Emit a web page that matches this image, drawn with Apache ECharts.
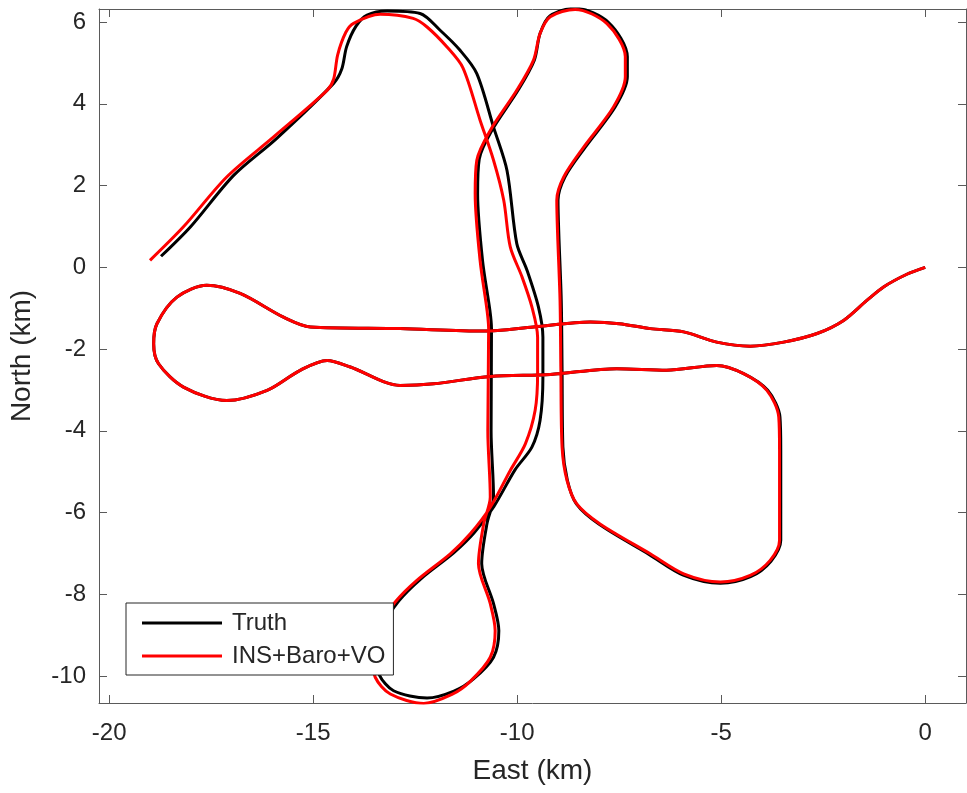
<!DOCTYPE html>
<html>
<head>
<meta charset="utf-8">
<script src="https://cdn.jsdelivr.net/npm/echarts@6/dist/echarts.min.js"></script>
<style>
  html, body { margin: 0; padding: 0; background: #fff; }
  #main { width: 967px; height: 793px; }
</style>
</head>
<body>
<div id="main"></div>
<script>
// trajectory, km (East, North)
var truthEast = [0, -0.45, -1.02, -1.43, -2.0, -2.65, -3.47, -4.29, -5.11, -5.92, -6.74, -7.5, -8.21, -9.6, -10.82, -12.87,
  -15.07, -15.73, -16.79, -17.61, -18.34, -18.83, -18.91, -18.79, -18.18, -17.12, -16.13, -15.32, -14.66, -14.09, -12.87,
  -12.05, -10.66, -9.19, -7.56, -6.34, -5.11, -4.45, -3.86, -3.56, -3.54, -3.54, -3.78, -4.28, -5.02, -5.93, -6.76,
  -7.99, -8.55, -8.77, -8.88, -8.90, -8.92, -8.98, -9.0, -8.83, -8.33, -7.6, -7.3, -7.3, -7.76, -8.58, -9.2, -9.44,
  -9.58, -9.98, -10.62, -10.93, -10.97, -10.85, -10.67, -10.63, -10.64, -10.58, -10.74, -10.87, -10.58, -10.45, -10.58,
  -11.07, -11.55, -12.21, -13.03, -13.38, -13.45, -13.25, -12.9, -12.36, -11.55, -11.05, -10.57, -10.05, -9.64, -9.44,
  -9.37, -9.37, -9.48, -9.76, -10.01, -10.25, -10.58, -10.99, -11.40, -11.89, -12.38, -13.19, -13.68, -13.95, -14.18,
  -14.3, -14.5, -15.9, -16.95, -18.0, -18.73];
var truthNorth = [0, -0.17, -0.48, -0.81, -1.30, -1.62, -1.83, -1.93, -1.83, -1.58, -1.50, -1.38, -1.34, -1.46, -1.56, -1.50,
  -1.46, -1.22, -0.64, -0.44, -0.73, -1.38, -1.87, -2.36, -2.93, -3.26, -3.01, -2.52, -2.28, -2.44, -2.89,
  -2.85, -2.67, -2.62, -2.48, -2.52, -2.40, -2.60, -3.01, -3.66, -4.48, -6.68, -7.19, -7.57, -7.73, -7.53, -7.03,
  -6.29, -5.79, -5.21, -4.40, -2.5, -0.81, 0.82, 1.64, 2.21, 2.94, 3.92, 4.66, 5.15, 5.99, 6.34, 6.15, 5.72,
  5.07, 4.33, 3.35, 2.65, 1.80, 0.17, -1.05, -1.5, -4.0, -5.62, -6.27, -7.25, -8.23, -8.89, -9.54,
  -10.07, -10.37, -10.54, -10.36, -9.97, -9.45, -8.72, -8.16, -7.62, -6.98, -6.49, -5.85, -4.95, -4.40, -3.75,
  -2.69, -1.71, -0.97, -0.07, 0.58, 2.37, 3.43, 4.74, 5.31, 5.80, 6.21, 6.27, 6.17, 5.9, 5.4,
  4.85, 4.5, 3.15, 2.25, 1.0, 0.27];

var insEast = [0, -0.45, -1.02, -1.43, -2.0, -2.65, -3.47, -4.29, -5.11, -5.92, -6.74, -7.5, -8.21, -9.6, -10.82, -12.87,
  -15.07, -15.73, -16.79, -17.61, -18.34, -18.83, -18.91, -18.79, -18.18, -17.12, -16.13, -15.32, -14.66, -14.09, -12.87,
  -12.05, -10.66, -9.19, -7.56, -6.34, -5.11, -4.45, -3.88, -3.59, -3.57, -3.57, -3.80, -4.29, -5.02, -5.92, -6.74,
  -7.97, -8.54, -8.78, -8.90, -8.93, -8.95, -9.01, -9.03, -8.86, -8.37, -7.64, -7.35, -7.35, -7.80, -8.58, -9.19, -9.44,
  -9.60, -10.01, -10.66, -10.99, -11.03, -10.91, -10.74, -10.70, -10.72, -10.66, -10.82, -10.95, -10.66, -10.54, -10.66,
  -11.15, -11.6, -12.29, -13.11, -13.48, -13.55, -13.35, -12.99, -12.46, -11.64, -11.15, -10.66, -10.17, -9.80, -9.56,
  -9.50, -9.50, -9.64, -9.88, -10.17, -10.33, -10.58, -10.91, -11.33, -11.72, -12.21, -12.55, -13.36, -14.01, -14.2,
  -14.4, -14.5, -14.66, -15.97, -17.12, -18.18, -19.0];
var insNorth = [0, -0.17, -0.48, -0.81, -1.30, -1.62, -1.83, -1.93, -1.83, -1.58, -1.50, -1.38, -1.34, -1.46, -1.56, -1.50,
  -1.46, -1.22, -0.64, -0.44, -0.73, -1.38, -1.87, -2.36, -2.93, -3.26, -3.01, -2.52, -2.28, -2.44, -2.89,
  -2.85, -2.67, -2.62, -2.48, -2.52, -2.40, -2.60, -3.01, -3.66, -4.48, -6.68, -7.17, -7.54, -7.70, -7.50, -7.01,
  -6.28, -5.79, -5.21, -4.40, -2.5, -0.81, 0.82, 1.64, 2.21, 2.94, 3.92, 4.66, 5.15, 5.96, 6.31, 6.13, 5.72,
  5.07, 4.33, 3.35, 2.62, 1.80, 0.17, -1.05, -1.5, -4.0, -5.62, -6.27, -7.25, -8.23, -8.89, -9.54,
  -10.13, -10.45, -10.67, -10.44, -10.03, -9.5, -8.75, -8.19, -7.66, -7.01, -6.52, -5.87, -4.97, -4.32, -3.50,
  -2.60, -1.71, -0.97, -0.24, 0.50, 1.64, 2.62, 3.60, 4.88, 5.39, 5.88, 6.09, 6.19, 5.97, 5.75,
  5.2, 4.6, 4.33, 3.19, 2.21, 0.99, 0.17];

var xTicks = [-20, -15, -10, -5, 0];
var yTicks = [-10, -8, -6, -4, -2, 0, 2, 4, 6];

function pairs(ex, ny) {
  var out = [];
  for (var i = 0; i < ex.length; i++) out.push([ex[i], ny[i]]);
  return out;
}

var font = '"Liberation Sans", Arial, Helvetica, sans-serif';
var axisColor = '#5a5a5a';
var textColor = '#262626';

function xAx(pos, withLabels) {
  return {
    type: 'value',
    position: pos,
    min: -20.25,
    max: 1,
    axisLine: { show: true, onZero: false, lineStyle: { color: axisColor, width: 1 } },
    axisTick: { show: true, inside: true, length: 8, customValues: xTicks, lineStyle: { color: axisColor } },
    axisLabel: { show: withLabels, customValues: xTicks, fontSize: 24, color: textColor, fontFamily: font, margin: 18 },
    splitLine: { show: false }
  };
}
function yAx(pos, withLabels) {
  return {
    type: 'value',
    position: pos,
    min: -10.66,
    max: 6.32,
    axisLine: { show: true, onZero: false, lineStyle: { color: axisColor, width: 1 } },
    axisTick: { show: true, inside: true, length: 8, customValues: yTicks, lineStyle: { color: axisColor } },
    axisLabel: { show: withLabels, customValues: yTicks, fontSize: 24, color: textColor, fontFamily: font, margin: 13 },
    splitLine: { show: false }
  };
}

var xBottom = xAx('bottom', true);
xBottom.name = 'East (km)';
xBottom.nameLocation = 'middle';
xBottom.nameGap = 54;
xBottom.nameTextStyle = { fontSize: 28, color: textColor, fontFamily: font };

var yLeft = yAx('left', true);
yLeft.name = 'North (km)';
yLeft.nameLocation = 'middle';
yLeft.nameGap = 63;
yLeft.nameTextStyle = { fontSize: 28, color: textColor, fontFamily: font };

var chart = echarts.init(document.getElementById('main'), null, { renderer: 'canvas' });

var option = {
  animation: false,
  backgroundColor: '#fff',
  grid: { left: 99, right: 1, top: 9, bottom: 90, containLabel: false },
  legend: {
    data: ['Truth', 'INS+Baro+VO'],
    orient: 'vertical',
    left: 126,
    top: 603,
    padding: [8, 8, 7, 16],
    itemWidth: 80,
    itemHeight: 3,
    itemGap: 9,
    icon: 'rect',
    borderColor: '#262626',
    borderWidth: 1,
    borderRadius: 0,
    backgroundColor: '#fff',
    textStyle: { fontSize: 24, lineHeight: 24, color: textColor, fontFamily: font, padding: [0, 0, 0, 5] }
  },
  xAxis: [xBottom, xAx('top', false)],
  yAxis: [yLeft, yAx('right', false)],
  series: [
    {
      name: 'Truth',
      type: 'line',
      data: pairs(truthEast, truthNorth),
      showSymbol: false,
      symbol: 'none',
      smooth: 0.3,
      color: '#000000',
      lineStyle: { color: '#000000', width: 3 }
    },
    {
      name: 'INS+Baro+VO',
      type: 'line',
      data: pairs(insEast, insNorth),
      showSymbol: false,
      symbol: 'none',
      smooth: 0.3,
      color: '#ff0000',
      lineStyle: { color: '#ff0000', width: 3 }
    }
  ]
};

chart.setOption(option);
</script>
</body>
</html>
